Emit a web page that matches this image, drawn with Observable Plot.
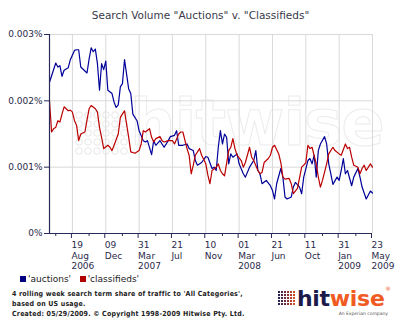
<!DOCTYPE html>
<html><head><meta charset="utf-8">
<script src="https://cdn.jsdelivr.net/npm/d3@7"></script>
<script src="https://cdn.jsdelivr.net/npm/@observablehq/plot@0.6"></script>
<style>
body{margin:0;background:#fff;width:410px;height:332px;overflow:hidden;font-family:"DejaVu Sans",Verdana,sans-serif;}
#wrap{position:relative;width:410px;height:332px;}
#title{position:absolute;left:0;top:9px;width:401px;text-align:center;font-size:10.5px;color:#3a3a4a;line-height:13px;}
#wm{position:absolute;left:130px;top:88px;font-family:"DejaVu Sans";font-weight:bold;font-size:64px;color:transparent;-webkit-text-stroke:1px #ececec;letter-spacing:-1px;line-height:70px;}
#wmdots{position:absolute;left:74px;top:110px;}
#chart{position:absolute;left:0;top:0;}
#legend{position:absolute;left:20px;top:274px;font-size:9px;color:#222;line-height:10px;white-space:nowrap;}
#legend span.sw{display:inline-block;width:6px;height:6px;margin-right:2px;vertical-align:0px;}
#foot{position:absolute;left:12px;top:289px;font-size:7px;color:#222;line-height:10px;white-space:nowrap;font-weight:bold;letter-spacing:0.2px;font-family:"DejaVu Sans Condensed","DejaVu Sans",sans-serif;}
#logo{position:absolute;left:276px;top:284px;}
</style></head>
<body><div id="wrap">
<div id="wm">hitwise</div>
<svg id="wmdots" width="56" height="46"></svg>
<div id="chart"></div>
<div id="title">Search Volume "Auctions" v. "Classifieds"</div>
<div id="legend"><span class="sw" style="background:#000080"></span>'auctions' &nbsp;&nbsp;<span class="sw" style="background:#b00000"></span>'classifieds'</div>
<div id="foot">4 rolling week search term share of traffic to 'All Categories',<br>based on US usage.<br>Created: 05/29/2009. © Copyright 1998-2009 Hitwise Pty. Ltd.</div>
<svg id="logo" width="120" height="36" viewBox="0 0 120 36">
  <g id="dots"></g>
  <text x="21" y="22" font-family="DejaVu Sans" font-weight="bold" font-size="22" letter-spacing="-0.3"><tspan fill="#1b1b4b">hit</tspan><tspan fill="#f05a23">wise</tspan></text>
  <text x="109" y="7" font-family="DejaVu Sans" font-size="6" fill="#f05a23">®</text>
  <text x="112" y="31" text-anchor="end" font-family="DejaVu Sans" font-size="4.5" fill="#555">An Experian company</text>
</svg>
</div>
<script>
// weekly data: [week offset from 3 Jun 2006, share in %]
const auctions = [
 [0,0.00228],[3,0.00257],[4,0.00251],[5,0.00253],[6,0.00237],[7,0.00246],[9,0.00250],[10,0.00262],
 [12,0.00276],[13,0.00277],[14,0.00277],[15,0.00251],[16,0.00248],[18,0.00242],[19,0.00263],[20,0.00280],
 [21,0.00274],[22,0.00278],[23,0.00256],[24,0.00216],[25,0.00256],[26,0.00247],[27,0.00260],[28,0.00216],
 [30,0.00211],[31,0.00198],[32,0.00190],[33,0.00194],[34,0.00221],[35,0.00226],[36,0.00262],[38,0.00218],
 [39,0.00211],[40,0.00180],[42,0.00170],[43,0.00155],[45,0.00140],[46,0.00138],[47,0.00140],[49,0.00119],
 [50,0.00140],[51,0.00133],[53,0.00140],[54,0.00135],[55,0.00130],[57,0.00140],[58,0.00146],[60,0.00148],
 [61,0.00155],[62,0.00133],[64,0.00133],[66,0.00135],[67,0.00128],[69,0.00125],[70,0.00110],[71,0.00103],
 [73,0.00107],[75,0.00116],[76,0.00115],[78,0.00098],[79,0.00100],[80,0.00095],[81,0.00130],[82,0.00155],
 [83,0.00135],[84,0.00150],[85,0.00145],[86,0.00105],[87,0.00120],[88,0.00115],[90,0.00120],[91,0.00105],
 [93,0.00090],[94,0.00085],[96,0.00100],[98,0.00110],[99,0.00125],[100,0.00095],[101,0.00090],[102,0.00075],
 [104,0.00080],[106,0.00072],[107,0.00065],[108,0.00052],[109,0.00075],[111,0.00098],[112,0.00085],[113,0.00055],
 [114,0.00052],[116,0.00055],[117,0.00070],[118,0.00077],[120,0.00070],[121,0.00060],[122,0.00085],[124,0.00110],
 [125,0.00113],[126,0.00105],[127,0.00118],[128,0.00085],[129,0.00125],[130,0.00135],[132,0.00146],[133,0.00135],
 [134,0.00105],[135,0.00090],[136,0.00074],[138,0.00085],[139,0.00080],[140,0.00095],[141,0.00113],[142,0.00090],
 [143,0.00095],[145,0.00072],[146,0.00085],[148,0.00098],[149,0.00085],[150,0.00070],[152,0.00052],[154,0.00064],
 [155,0.00061]
];
const classifieds = [
 [0,0.00200],[1,0.00153],[2,0.00158],[3,0.00160],[4,0.00170],[5,0.00168],[6,0.00180],[7,0.00191],
 [9,0.00185],[10,0.00186],[11,0.00183],[12,0.00170],[13,0.00163],[14,0.00140],[15,0.00150],[17,0.00153],
 [18,0.00171],[19,0.00188],[20,0.00193],[22,0.00188],[23,0.00183],[24,0.00160],[25,0.00145],[26,0.00128],
 [28,0.00133],[29,0.00130],[30,0.00125],[31,0.00133],[33,0.00150],[34,0.00175],[35,0.00180],[36,0.00185],
 [37,0.00165],[38,0.00145],[39,0.00123],[41,0.00121],[43,0.00125],[44,0.00135],[45,0.00155],[46,0.00153],
 [48,0.00158],[49,0.00145],[50,0.00138],[51,0.00143],[53,0.00146],[54,0.00140],[55,0.00138],[57,0.00140],
 [59,0.00140],[60,0.00135],[62,0.00150],[63,0.00153],[64,0.00153],[66,0.00128],[67,0.00118],[68,0.00090],
 [69,0.00103],[70,0.00118],[72,0.00128],[73,0.00118],[75,0.00105],[76,0.00088],[77,0.00075],[78,0.00095],
 [80,0.00100],[81,0.00105],[82,0.00095],[83,0.00090],[84,0.00087],[86,0.00125],[87,0.00130],[88,0.00143],
 [89,0.00128],[90,0.00118],[92,0.00110],[93,0.00100],[94,0.00107],[96,0.00130],[97,0.00115],[98,0.00110],
 [100,0.00095],[101,0.00090],[102,0.00092],[103,0.00107],[105,0.00113],[106,0.00118],[107,0.00130],[108,0.00133],
 [110,0.00120],[111,0.00107],[112,0.00085],[113,0.00082],[115,0.00083],[116,0.00075],[117,0.00060],[119,0.00068],
 [121,0.00100],[122,0.00103],[123,0.00107],[124,0.00133],[125,0.00128],[126,0.00130],[128,0.00105],[129,0.00085],
 [130,0.00070],[131,0.00080],[133,0.00105],[134,0.00120],[136,0.00130],[137,0.00125],[139,0.00120],[140,0.00118],
 [142,0.00135],[143,0.00128],[144,0.00130],[145,0.00115],[146,0.00103],[148,0.00100],[149,0.00090],[150,0.00098],
 [151,0.00103],[152,0.00095],[154,0.00105],[155,0.00100]
];
const xTickDates = ["2006-08-19","2006-12-09","2007-03-31","2007-07-21","2007-11-10","2008-03-01","2008-06-21","2008-10-11","2009-01-31","2009-05-23"];
const xTickLabels = ["19\nAug\n2006","09\nDec","31\nMar\n2007","21\nJul","10\nNov","01\nMar\n2008","21\nJun","11\nOct","31\nJan\n2009","23\nMay\n2009"];
const xMinorDates = ["2006-06-24","2006-10-14","2007-02-03","2007-05-26","2007-09-15","2008-01-05","2008-04-26","2008-08-16","2008-12-06","2009-03-28"];
const yTicks = [0, 0.001, 0.002, 0.003];
const yTickLabels = ["0%","0.001%","0.002%","0.003%"];

const start = new Date(Date.UTC(2006,5,3));
const end = new Date(Date.UTC(2009,4,23));
const toDate = w => d3.utcDay.offset(start, 7*w);
const rows = s => (d => ({date: toDate(d[0]), value: d[1], series: s}));
const aRows = auctions.map(rows("auctions"));
const cRows = classifieds.map(rows("classifieds"));
const majors = xTickDates.map(d => new Date(d + "T00:00:00Z"));
const minors = xMinorDates.map(d => new Date(d + "T00:00:00Z"));
const labelOf = new Map(majors.map((d,i) => [+d, xTickLabels[i]]));
const axisColor = "#2a2a5a";

const chart = Plot.plot({
  width: 410, height: 280,
  marginLeft: 49, marginRight: 38, marginTop: 34, marginBottom: 47,
  style: {fontFamily: "DejaVu Sans, Verdana, sans-serif", fontSize: "9px", color: "#2a2a4a", background: "transparent", overflow: "visible"},
  x: {type: "utc", domain: [start, end], axis: null, label: null},
  y: {domain: [0, 0.003], axis: null, label: null},
  marks: [
    Plot.gridX(majors, {stroke: "#d9d9d9", strokeOpacity: 1, strokeWidth: 1}),
    Plot.gridY(yTicks.slice(1), {stroke: "#d9d9d9", strokeOpacity: 1, strokeWidth: 1}),
    Plot.line(aRows, {x: "date", y: "value", stroke: "#000099", strokeWidth: 1.2}),
    Plot.line(cRows, {x: "date", y: "value", stroke: "#bb0000", strokeWidth: 1.2}),
    Plot.ruleY([0], {stroke: axisColor, strokeWidth: 1.2}),
    Plot.ruleX([start], {stroke: axisColor, strokeWidth: 1.2}),
    Plot.axisX(minors, {tickSize: 3, tickFormat: () => "", stroke: axisColor, label: null}),
    Plot.axisX(majors, {tickSize: 5, tickPadding: 2, stroke: axisColor, textAnchor: "start", dx: -1, lineHeight: 1.17,
      tickFormat: d => labelOf.get(+d), fill: "#2a2a4a", label: null}),
    Plot.axisY(yTicks, {tickSize: 5, tickPadding: 2, stroke: axisColor, fill: "#2a2a4a", label: null,
      tickFormat: d => yTickLabels[yTicks.indexOf(d)]})
  ]
});
document.getElementById("chart").appendChild(chart);

const NS = "http://www.w3.org/2000/svg";
// watermark dot grid
const wmd = document.getElementById("wmdots");
for (let r = 0; r < 5; r++) for (let c = 0; c < 6; c++) {
  const el = document.createElementNS(NS, "circle");
  el.setAttribute("cx", 5 + c*9); el.setAttribute("cy", 5 + r*9); el.setAttribute("r", 3.3);
  el.setAttribute("fill", "none"); el.setAttribute("stroke", "#e8e8e8"); el.setAttribute("stroke-width", 1);
  wmd.appendChild(el);
}
// logo dots
const dots = document.getElementById("dots");
const dotColors = ["#2b2150","#4a2647","#6b2c3d","#8d3434","#b0402c","#d04d26"];
for (let r = 0; r < 5; r++) for (let c = 0; c < 6; c++) {
  const el = document.createElementNS(NS, "rect");
  el.setAttribute("x", 2 + c*3); el.setAttribute("y", 7 + r*3);
  el.setAttribute("width", 2); el.setAttribute("height", 2);
  el.setAttribute("fill", dotColors[c]);
  dots.appendChild(el);
}
</script>
</body></html>
